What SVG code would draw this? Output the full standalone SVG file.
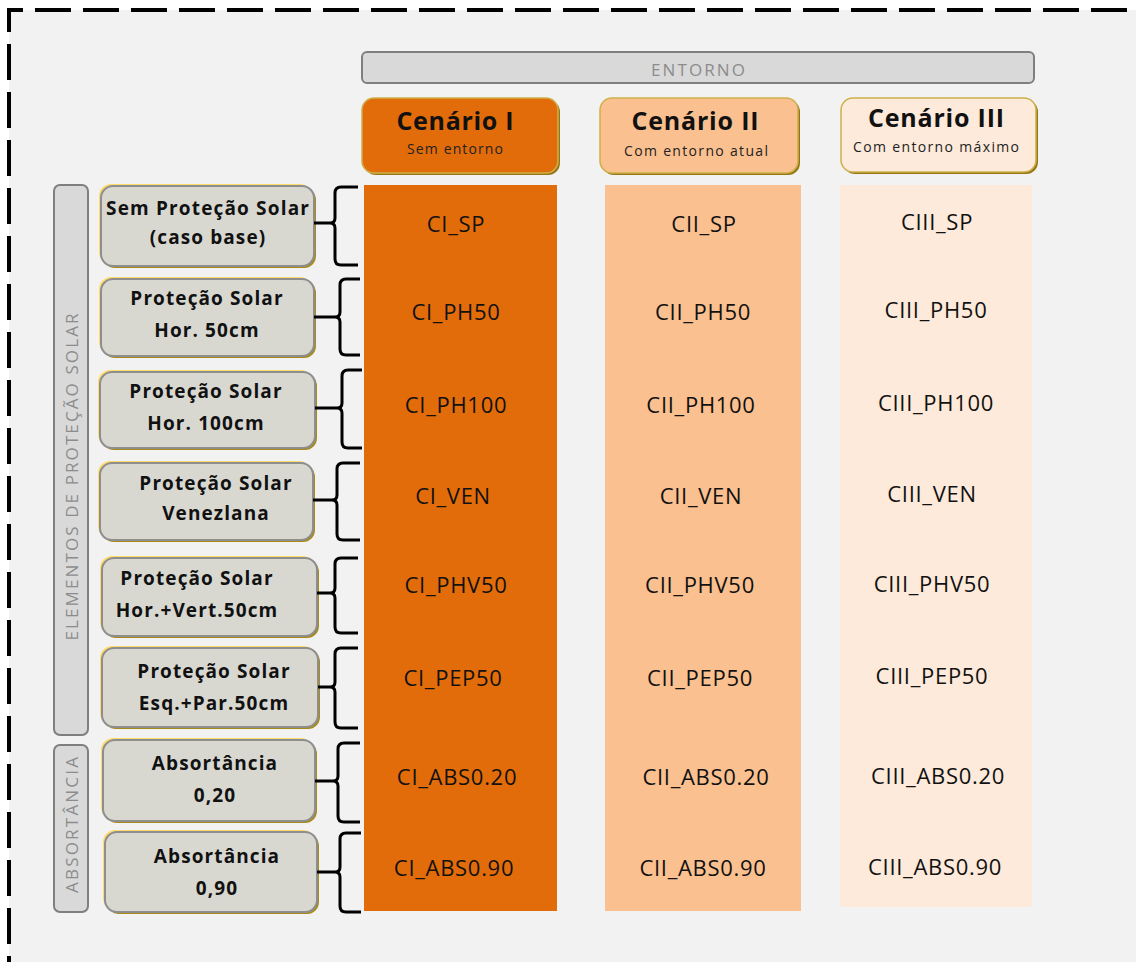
<svg xmlns="http://www.w3.org/2000/svg" width="1136" height="962" viewBox="0 0 1136 962">
<style>
  .lbl{font-family:"Open Sans","Liberation Sans",sans-serif;font-weight:bold;font-size:19px;fill:#111;text-anchor:middle;letter-spacing:1.1px}
  .cell{font-family:"Open Sans","Liberation Sans",sans-serif;font-size:22px;fill:#111;text-anchor:middle;letter-spacing:0.7px}
  .ttl{font-family:"Open Sans","Liberation Sans",sans-serif;font-weight:bold;font-size:25px;fill:#111;text-anchor:middle}
  .sub{font-family:"Open Sans","Liberation Sans",sans-serif;font-size:14px;fill:#222;text-anchor:middle}
  .grey{font-family:"Open Sans","Liberation Sans",sans-serif;font-size:17px;fill:#8c8c8c;text-anchor:middle}
  .bx{fill:#d8d8d1;stroke:#8e8e8e;stroke-width:2}
  .bxsh{fill:#a88a18}
  .bxhi{fill:#ffdc6a}
  .vbox{fill:#d9d9d9;stroke:#7f7f7f;stroke-width:2}
  .brace{fill:none;stroke:#000;stroke-width:3}
  .cenb{stroke:#cdb04a;stroke-width:1.5}
  .censh{fill:#957612}
</style>
<rect x="0" y="0" width="1136" height="962" fill="#ffffff"/>
<rect x="9" y="10" width="1127" height="952" fill="#f2f2f2"/>
<path d="M9,962 V10 H1136" fill="none" stroke="#000" stroke-width="4" stroke-dasharray="36 12" stroke-dashoffset="-18"/>

<g id="entorno">
  <rect x="362" y="52" width="672" height="31" rx="5" class="vbox" stroke="#8c8c8c"/>
  <text x="698" y="76" class="grey" textLength="94">ENTORNO</text>
</g>

<g id="cenario1">
  <rect x="364" y="100" width="196" height="75" rx="12" class="censh"/>
  <rect x="362" y="98" width="196" height="75" rx="12" fill="#e36c0a" class="cenb"/>
  <text x="455" y="130" class="ttl" textLength="117">Cenário I</text>
  <text x="455" y="154" class="sub" textLength="96">Sem entorno</text>
</g>
<g id="cenario2">
  <rect x="602" y="100" width="198" height="75" rx="12" class="censh"/>
  <rect x="600" y="98" width="198" height="75" rx="12" fill="#fac08f" class="cenb"/>
  <text x="695" y="130" class="ttl" textLength="127">Cenário II</text>
  <text x="696" y="156" class="sub" textLength="144">Com entorno atual</text>
</g>
<g id="cenario3">
  <rect x="843" y="100" width="195" height="74" rx="12" class="censh"/>
  <rect x="841" y="98" width="195" height="74" rx="12" fill="#fdeada" class="cenb"/>
  <text x="936" y="127" class="ttl" textLength="136">Cenário III</text>
  <text x="936" y="152" class="sub" textLength="166">Com entorno máximo</text>
</g>

<g id="col1">
  <rect x="364" y="185" width="193" height="726" fill="#e36c0a"/>
  <text x="456" y="232" class="cell">CI_SP</text>
  <text x="456" y="320" class="cell">CI_PH50</text>
  <text x="456" y="413" class="cell">CI_PH100</text>
  <text x="453" y="504" class="cell">CI_VEN</text>
  <text x="456" y="593" class="cell">CI_PHV50</text>
  <text x="453" y="686" class="cell">CI_PEP50</text>
  <text x="457" y="785" class="cell">CI_ABS0.20</text>
  <text x="454" y="876" class="cell">CI_ABS0.90</text>
</g>
<g id="col2">
  <rect x="605" y="185" width="196" height="726" fill="#fac08f"/>
  <text x="704" y="232" class="cell">CII_SP</text>
  <text x="703" y="320" class="cell">CII_PH50</text>
  <text x="701" y="413" class="cell">CII_PH100</text>
  <text x="701" y="504" class="cell">CII_VEN</text>
  <text x="700" y="593" class="cell">CII_PHV50</text>
  <text x="700" y="686" class="cell">CII_PEP50</text>
  <text x="706" y="785" class="cell">CII_ABS0.20</text>
  <text x="703" y="876" class="cell">CII_ABS0.90</text>
</g>
<g id="col3">
  <rect x="840" y="185" width="192" height="722" fill="#fdeada"/>
  <text x="937" y="230" class="cell">CIII_SP</text>
  <text x="936" y="318" class="cell">CIII_PH50</text>
  <text x="936" y="411" class="cell">CIII_PH100</text>
  <text x="932" y="502" class="cell">CIII_VEN</text>
  <text x="932" y="592" class="cell">CIII_PHV50</text>
  <text x="932" y="684" class="cell">CIII_PEP50</text>
  <text x="938" y="784" class="cell">CIII_ABS0.20</text>
  <text x="935" y="875" class="cell">CIII_ABS0.90</text>
</g>

<g id="grupo-elementos">
  <rect x="54" y="185" width="34" height="550" rx="6" class="vbox"/>
  <text transform="translate(78,477) rotate(-90)" class="grey" textLength="327">ELEMENTOS DE PROTEÇÃO SOLAR</text>
</g>
<g id="grupo-absortancia">
  <rect x="54" y="745" width="34" height="167" rx="6" class="vbox"/>
  <text transform="translate(78,825) rotate(-90)" class="grey" textLength="136">ABSORTÂNCIA</text>
</g>

<g id="no-sp">
  <rect x="103" y="188" width="213" height="80" rx="12" class="bxsh"/>
  <rect x="99" y="184" width="213" height="80" rx="12" class="bxhi"/>
  <rect x="101" y="186" width="213" height="80" rx="12" class="bx"/>
  <text x="208" y="215" class="lbl" textLength="204">Sem Proteção Solar</text>
  <text x="208" y="244" class="lbl">(caso base)</text>
</g>
<g id="no-ph50">
  <rect x="103" y="281" width="213" height="77" rx="12" class="bxsh"/>
  <rect x="99" y="277" width="213" height="77" rx="12" class="bxhi"/>
  <rect x="101" y="279" width="213" height="77" rx="12" class="bx"/>
  <text x="207" y="305" class="lbl">Proteção Solar</text>
  <text x="207" y="337" class="lbl">Hor. 50cm</text>
</g>
<g id="no-ph100">
  <rect x="102" y="374" width="215" height="76" rx="12" class="bxsh"/>
  <rect x="98" y="370" width="215" height="76" rx="12" class="bxhi"/>
  <rect x="100" y="372" width="215" height="76" rx="12" class="bx"/>
  <text x="206" y="398" class="lbl">Proteção Solar</text>
  <text x="206" y="430" class="lbl">Hor. 100cm</text>
</g>
<g id="no-ven">
  <rect x="102" y="465" width="213" height="77" rx="12" class="bxsh"/>
  <rect x="98" y="461" width="213" height="77" rx="12" class="bxhi"/>
  <rect x="100" y="463" width="213" height="77" rx="12" class="bx"/>
  <text x="216" y="490" class="lbl">Proteção Solar</text>
  <text x="216" y="520" class="lbl">Venezlana</text>
</g>
<g id="no-phv50">
  <rect x="104" y="560" width="215" height="78" rx="12" class="bxsh"/>
  <rect x="100" y="556" width="215" height="78" rx="12" class="bxhi"/>
  <rect x="102" y="558" width="215" height="78" rx="12" class="bx"/>
  <text x="197" y="585" class="lbl">Proteção Solar</text>
  <text x="197" y="617" class="lbl">Hor.+Vert.50cm</text>
</g>
<g id="no-pep50">
  <rect x="104" y="650" width="216" height="79" rx="12" class="bxsh"/>
  <rect x="100" y="646" width="216" height="79" rx="12" class="bxhi"/>
  <rect x="102" y="648" width="216" height="79" rx="12" class="bx"/>
  <text x="214" y="678" class="lbl">Proteção Solar</text>
  <text x="214" y="710" class="lbl">Esq.+Par.50cm</text>
</g>
<g id="no-abs020">
  <rect x="105" y="742" width="212" height="81" rx="12" class="bxsh"/>
  <rect x="101" y="738" width="212" height="81" rx="12" class="bxhi"/>
  <rect x="103" y="740" width="212" height="81" rx="12" class="bx"/>
  <text x="215" y="770" class="lbl">Absortância</text>
  <text x="215" y="802" class="lbl">0,20</text>
</g>
<g id="no-abs090">
  <rect x="107" y="834" width="212" height="80" rx="12" class="bxsh"/>
  <rect x="103" y="830" width="212" height="80" rx="12" class="bxhi"/>
  <rect x="105" y="832" width="212" height="80" rx="12" class="bx"/>
  <text x="217" y="863" class="lbl">Absortância</text>
  <text x="217" y="895" class="lbl">0,90</text>
</g>

<g id="connectors" class="brace">
  <path d="M358,187 H341 Q335,187 335,193 V218 Q335,223 330,223 Q335,223 335,228 V259 Q335,265 341,265 H358 M314,223 H330"/>
  <path d="M360,279 H346 Q340,279 340,285 V312 Q340,317 335,317 Q340,317 340,322 V349 Q340,355 346,355 H360 M314,317 H335"/>
  <path d="M362,370 H348 Q342,370 342,376 V403 Q342,408 337,408 Q342,408 342,413 V442 Q342,448 348,448 H362 M315,408 H337"/>
  <path d="M360,463 H343 Q337,463 337,469 V495 Q337,500 332,500 Q337,500 337,505 V534 Q337,540 343,540 H360 M313,500 H332"/>
  <path d="M358,558 H341 Q335,558 335,564 V588 Q335,593 330,593 Q335,593 335,598 V627 Q335,633 341,633 H358 M317,593 H330"/>
  <path d="M358,648 H341 Q335,648 335,654 V682 Q335,687 330,687 Q335,687 335,692 V722 Q335,728 341,728 H358 M318,687 H330"/>
  <path d="M360,743 H344 Q338,743 338,749 V776 Q338,781 333,781 Q338,781 338,786 V816 Q338,822 344,822 H360 M315,781 H333"/>
  <path d="M361,833 H346 Q340,833 340,839 V867 Q340,872 335,872 Q340,872 340,877 V906 Q340,912 346,912 H361 M317,872 H335"/>
</g>
</svg>
